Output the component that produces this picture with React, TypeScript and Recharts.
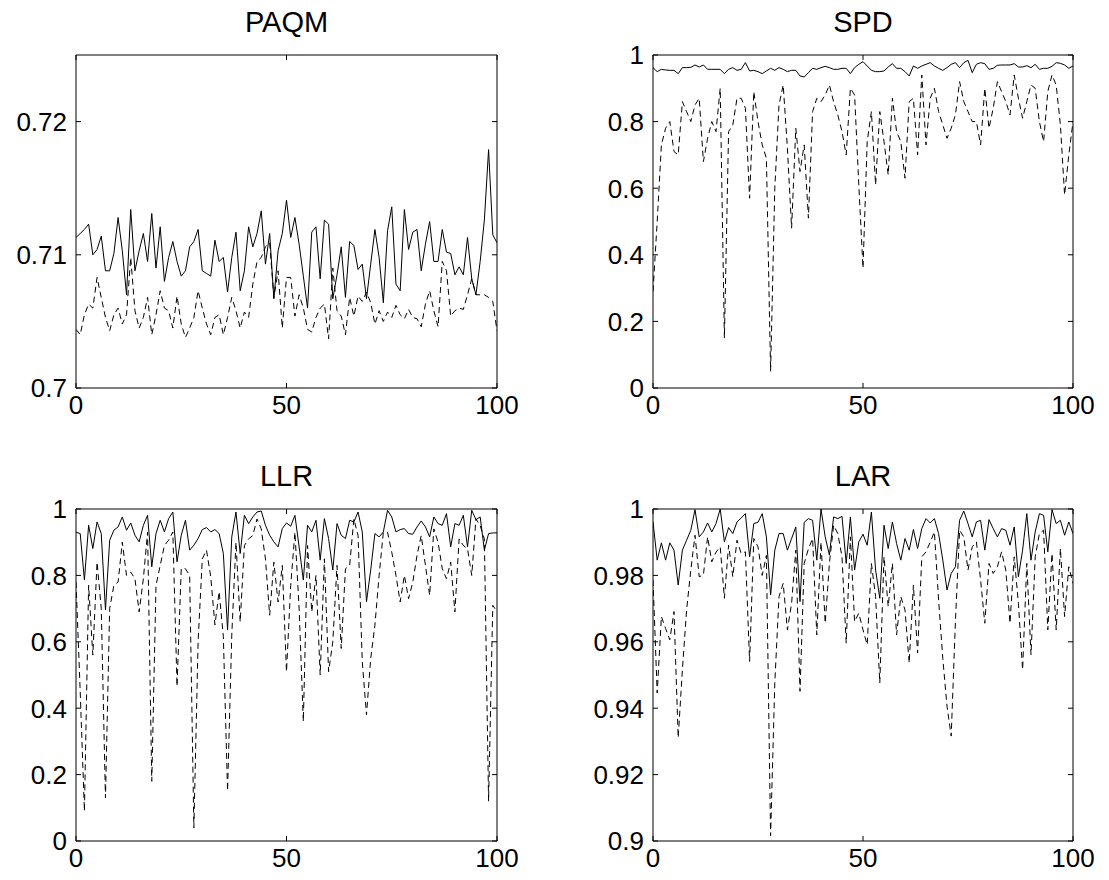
import React from 'react';
import { LineChart, Line, XAxis, YAxis, ReferenceArea } from 'recharts';

// x positions 0..100 on every panel
const xTicks = [0, 50, 100];

const paqmTicks = [0.7, 0.71, 0.72];
const paqmLabels = ['0.7', '0.71', '0.72'];
const unitTicks = [0, 0.2, 0.4, 0.6, 0.8, 1];
const unitLabels = ['0', '0.2', '0.4', '0.6', '0.8', '1'];
const larTicks = [0.9, 0.92, 0.94, 0.96, 0.98, 1];
const larLabels = ['0.9', '0.92', '0.94', '0.96', '0.98', '1'];

const paqmSolid = [
  0.7113, 0.7116, 0.7119, 0.7123, 0.7100, 0.7104, 0.7114, 0.7088, 0.7088, 0.7101,
  0.7128, 0.7103, 0.7070, 0.7134, 0.7088, 0.7103, 0.7116, 0.7095, 0.7131, 0.7090,
  0.7121, 0.7080, 0.7098, 0.7110, 0.7095, 0.7084, 0.7088, 0.7106, 0.7110, 0.7119,
  0.7088, 0.7086, 0.7084, 0.7111, 0.7095, 0.7098, 0.7072, 0.7098, 0.7117, 0.7073,
  0.7088, 0.7121, 0.7106, 0.7116, 0.7133, 0.7093, 0.7116, 0.7067, 0.7103, 0.7116,
  0.7141, 0.7113, 0.7128, 0.7108, 0.7084, 0.7060, 0.7117, 0.7121, 0.7082, 0.7126,
  0.7123, 0.7067, 0.7085, 0.7106, 0.7068, 0.7110, 0.7107, 0.7089, 0.7093, 0.7067,
  0.7093, 0.7119, 0.7098, 0.7064, 0.7118, 0.7136, 0.7078, 0.7073, 0.7134, 0.7104,
  0.7117, 0.7119, 0.7088, 0.7108, 0.7125, 0.7095, 0.7095, 0.7119, 0.7102, 0.7101,
  0.7085, 0.7091, 0.7085, 0.7113, 0.7082, 0.7070, 0.7095, 0.7126, 0.7179, 0.7115, 0.7109,
];
const paqmDashed = [
  0.7044, 0.7040, 0.7055, 0.7063, 0.7060, 0.7083, 0.7068, 0.7053, 0.7043, 0.7055,
  0.7060, 0.7048, 0.7055, 0.7098, 0.7058, 0.7045, 0.7053, 0.7068, 0.7040, 0.7055,
  0.7073, 0.7060, 0.7058, 0.7045, 0.7069, 0.7048, 0.7038, 0.7045, 0.7053, 0.7073,
  0.7060, 0.7048, 0.7040, 0.7053, 0.7055, 0.7040, 0.7053, 0.7068, 0.7058, 0.7045,
  0.7057, 0.7053, 0.7078, 0.7095, 0.7098, 0.7106, 0.7109, 0.7068, 0.7088, 0.7045,
  0.7083, 0.7083, 0.7054, 0.7070, 0.7060, 0.7044, 0.7042, 0.7053, 0.7060, 0.7063,
  0.7037, 0.7090, 0.7058, 0.7054, 0.7040, 0.7068, 0.7054, 0.7069, 0.7065, 0.7072,
  0.7064, 0.7048, 0.7058, 0.7050, 0.7057, 0.7053, 0.7062, 0.7055, 0.7052, 0.7059,
  0.7053, 0.7052, 0.7046, 0.7063, 0.7073, 0.7058, 0.7046, 0.7095, 0.7088, 0.7054,
  0.7058, 0.7060, 0.7059, 0.7070, 0.7082, 0.7070, 0.7070, 0.7070, 0.7068, 0.7065, 0.7043,
];

const spdSolid = [
  0.962, 0.950, 0.957, 0.955, 0.954, 0.954, 0.944, 0.962, 0.962, 0.963,
  0.970, 0.964, 0.970, 0.957, 0.957, 0.957, 0.957, 0.944, 0.957, 0.962,
  0.954, 0.957, 0.977, 0.952, 0.954, 0.950, 0.944, 0.952, 0.960, 0.954,
  0.962, 0.957, 0.950, 0.954, 0.954, 0.937, 0.934, 0.947, 0.960, 0.957,
  0.962, 0.966, 0.962, 0.957, 0.957, 0.960, 0.960, 0.944, 0.962, 0.972,
  0.980, 0.967, 0.954, 0.950, 0.950, 0.952, 0.964, 0.974, 0.960, 0.960,
  0.950, 0.937, 0.967, 0.960, 0.967, 0.972, 0.977, 0.967, 0.960, 0.954,
  0.962, 0.972, 0.977, 0.962, 0.977, 0.984, 0.947, 0.972, 0.977, 0.974,
  0.957, 0.960, 0.969, 0.970, 0.970, 0.970, 0.974, 0.964, 0.964, 0.968,
  0.962, 0.972, 0.957, 0.960, 0.960, 0.966, 0.977, 0.975, 0.970, 0.960, 0.967,
];
const spdDashed = [
  0.29, 0.50, 0.73, 0.78, 0.80, 0.71, 0.70, 0.86, 0.83, 0.80,
  0.85, 0.87, 0.68, 0.75, 0.80, 0.77, 0.90, 0.15, 0.77, 0.79,
  0.87, 0.87, 0.84, 0.57, 0.89, 0.80, 0.73, 0.69, 0.05, 0.60,
  0.85, 0.91, 0.72, 0.48, 0.78, 0.65, 0.73, 0.51, 0.83, 0.87,
  0.86, 0.88, 0.91, 0.86, 0.82, 0.77, 0.70, 0.90, 0.88, 0.61,
  0.36, 0.74, 0.83, 0.61, 0.83, 0.74, 0.64, 0.87, 0.77, 0.74,
  0.63, 0.86, 0.87, 0.70, 0.94, 0.73, 0.87, 0.90, 0.83, 0.79,
  0.75, 0.78, 0.82, 0.92, 0.86, 0.83, 0.80, 0.80, 0.73, 0.90,
  0.78, 0.84, 0.92, 0.89, 0.86, 0.82, 0.94, 0.87, 0.81, 0.86,
  0.91, 0.90, 0.80, 0.74, 0.89, 0.94, 0.91, 0.79, 0.58, 0.70, 0.80,
];

const llrSolid = [
  0.930, 0.926, 0.786, 0.951, 0.881, 0.961, 0.926, 0.696, 0.906, 0.936,
  0.946, 0.976, 0.936, 0.958, 0.921, 0.901, 0.951, 0.981, 0.826, 0.926,
  0.966, 0.931, 0.971, 0.991, 0.841, 0.921, 0.966, 0.876, 0.891, 0.911,
  0.938, 0.944, 0.931, 0.938, 0.926, 0.866, 0.636, 0.916, 0.991, 0.866,
  0.981, 0.956, 0.976, 0.991, 0.994, 0.951, 0.921, 0.901, 0.886, 0.941,
  0.958, 0.948, 0.981, 0.886, 0.786, 0.951, 0.931, 0.966, 0.846, 0.971,
  0.911, 0.816, 0.956, 0.921, 0.911, 0.966, 0.961, 0.991, 0.931, 0.721,
  0.816, 0.926, 0.916, 0.931, 0.996, 0.976, 0.931, 0.938, 0.941, 0.926,
  0.924, 0.946, 0.964, 0.946, 0.916, 0.976, 0.956, 0.951, 0.986, 0.886,
  0.956, 0.951, 0.981, 0.886, 0.996, 0.968, 0.976, 0.876, 0.926, 0.928, 0.928,
];
const llrDashed = [
  0.78, 0.45, 0.09, 0.77, 0.56, 0.84, 0.70, 0.13, 0.70, 0.77,
  0.78, 0.90, 0.80, 0.81, 0.79, 0.69, 0.79, 0.93, 0.18, 0.77,
  0.83, 0.89, 0.906, 0.931, 0.466, 0.821, 0.82, 0.80, 0.04, 0.60,
  0.85, 0.876, 0.796, 0.651, 0.751, 0.616, 0.151, 0.62, 0.90, 0.66,
  0.89, 0.91, 0.92, 0.97, 0.94, 0.85, 0.68, 0.84, 0.72, 0.83,
  0.51, 0.77, 0.93, 0.70, 0.36, 0.89, 0.69, 0.80, 0.50, 0.85,
  0.51, 0.60, 0.83, 0.58, 0.82, 0.83, 0.97, 0.92, 0.54, 0.38,
  0.55, 0.65, 0.80, 0.93, 0.93, 0.87, 0.80, 0.72, 0.80, 0.73,
  0.78, 0.86, 0.92, 0.83, 0.74, 0.94, 0.90, 0.82, 0.79, 0.84,
  0.69, 0.91, 0.89, 0.88, 0.80, 0.97, 0.95, 0.91, 0.12, 0.71, 0.69,
];

const larSolid = [
  0.9961, 0.9846, 0.9898, 0.9846, 0.9898, 0.9876, 0.9771, 0.9876, 0.9906, 0.9936,
  0.9998, 0.9916, 0.9931, 0.9958, 0.9931, 0.9956, 1.0, 0.9901, 0.9944, 0.9926,
  0.9961, 0.9973, 0.9986, 0.9856, 0.9956, 0.9960, 0.9986, 0.9916, 0.9741, 0.9876,
  0.9926, 0.9926, 0.9876, 0.9911, 0.9946, 0.9721, 0.9960, 0.9971, 0.9966, 0.9846,
  1.0, 0.9916, 0.9861, 0.9976, 0.9971, 0.9978, 0.9836, 0.9976, 0.9816, 0.9901,
  0.9924, 0.9891, 0.9991, 0.9816, 0.9731, 0.9951, 0.9881, 0.9961, 0.9896, 0.9846,
  0.9911, 0.9876, 0.9938, 0.9881, 0.9941, 0.9971, 0.9958, 0.9971, 0.9926, 0.9846,
  0.9756, 0.9806, 0.9826, 0.9966, 0.9994, 0.9956, 0.9916, 0.9961, 0.9966, 0.9876,
  0.9968, 0.9941, 0.9916, 0.9941, 0.9936, 0.9891, 0.9946, 0.9796, 0.9876, 0.9986,
  0.9846, 0.9931, 0.9986, 0.9981, 0.9871, 0.9998, 0.9956, 0.9966, 0.9921, 0.9961, 0.9926,
];
const larDashed = [
  0.9786, 0.9446, 0.9676, 0.9640, 0.9606, 0.9691, 0.9311, 0.9516, 0.9696, 0.9816,
  0.9921, 0.9796, 0.9801, 0.9916, 0.9841, 0.9870, 0.9886, 0.9731, 0.9891, 0.9796,
  0.9906, 0.9866, 0.9871, 0.9541, 0.9911, 0.9886, 0.9800, 0.9860, 0.9016, 0.9476,
  0.9736, 0.9776, 0.9636, 0.9716, 0.9876, 0.9451, 0.9836, 0.9880, 0.9911, 0.9621,
  0.9900, 0.9656, 0.9836, 0.9951, 0.9926, 0.9856, 0.9596, 0.9916, 0.9661, 0.9686,
  0.9636, 0.9591, 0.9836, 0.9736, 0.9476, 0.9856, 0.9706, 0.9836, 0.9621, 0.9736,
  0.9696, 0.9536, 0.9771, 0.9566, 0.9856, 0.9871, 0.9900, 0.9931, 0.9726, 0.9550,
  0.9406, 0.9316, 0.9660, 0.9936, 0.9916, 0.9816, 0.9886, 0.9901, 0.9786, 0.9656,
  0.9836, 0.9806, 0.9826, 0.9871, 0.9816, 0.9656, 0.9856, 0.9716, 0.9516, 0.9836,
  0.9561, 0.9856, 0.9926, 0.9936, 0.9636, 0.9866, 0.9636, 0.9881, 0.9676, 0.9826, 0.9776,
];

const FONT = '"Liberation Sans", Arial, Helvetica, sans-serif';
const TICK_FS = 26;
const TITLE_FS = 29;
const TICK_LEN = 5;
const YW = 76; // room for y labels
const MT = 50; // room for title
const MR = 30;
const XH = 45;

type PanelProps = {
  title: string;
  solid: number[];
  dashed: number[];
  domain: [number, number];
  yTicks: number[];
  yLabels: string[];
  left: number;
  top: number;
  width: number;
  height: number;
};

const Panel = ({ title, solid, dashed, domain, yTicks, yLabels, left, top, width, height }: PanelProps) => {
  const data = solid.map((v, i) => ({ x: i, solid: v, dashed: dashed[i] }));
  const chartW = YW + width + MR;
  const chartH = MT + height + XH;
  const plotRight = YW + width;

  // labels outside, tick marks pointing into the box on both sides
  const renderYTick = (p: any) => {
    const { x, y, payload } = p;
    const label = yLabels[yTicks.indexOf(payload.value)];
    return (
      <g>
        <line x1={x} x2={x + TICK_LEN} y1={y} y2={y} stroke="#000" />
        <line x1={plotRight - TICK_LEN} x2={plotRight} y1={y} y2={y} stroke="#000" />
        <text x={x - 9} y={y} dy="0.36em" textAnchor="end" fontSize={TICK_FS} fontFamily={FONT} fill="#000">
          {label}
        </text>
      </g>
    );
  };

  const renderXTick = (p: any) => {
    const { x, y, payload } = p;
    return (
      <g>
        <line x1={x} x2={x} y1={y} y2={y - TICK_LEN} stroke="#000" />
        <line x1={x} x2={x} y1={MT} y2={MT + TICK_LEN} stroke="#000" />
        <text x={x} y={y + 26} textAnchor="middle" fontSize={TICK_FS} fontFamily={FONT} fill="#000">
          {payload.value}
        </text>
      </g>
    );
  };

  return (
    <div style={{ position: 'absolute', left: left - YW, top: top - MT, width: chartW, height: chartH }}>
      <LineChart width={chartW} height={chartH} data={data} margin={{ top: MT, right: MR, bottom: 0, left: 0 }}>
        <XAxis
          type="number"
          dataKey="x"
          domain={[0, 100]}
          ticks={xTicks}
          allowDataOverflow
          height={XH}
          axisLine={false}
          tickLine={false}
          tickSize={0}
          tickMargin={0}
          tick={renderXTick}
        />
        <YAxis
          type="number"
          domain={domain}
          ticks={yTicks}
          allowDataOverflow
          width={YW}
          axisLine={false}
          tickLine={false}
          tickSize={0}
          tickMargin={0}
          tick={renderYTick}
        />
        <Line type="linear" dataKey="dashed" stroke="#000" strokeWidth={1} strokeDasharray="6 4" dot={false} isAnimationActive={false} />
        <Line type="linear" dataKey="solid" stroke="#000" strokeWidth={1} dot={false} isAnimationActive={false} />
        <ReferenceArea x1={0} x2={100} y1={domain[0]} y2={domain[1]} fill="none" fillOpacity={0} stroke="#000" strokeWidth={1} ifOverflow="visible" />
      </LineChart>
      <svg width={chartW} height={MT} style={{ position: 'absolute', left: 0, top: 0, pointerEvents: 'none' }}>
        <text x={YW + width / 2} y={MT - 23} textAnchor="middle" fontSize={TITLE_FS} fontFamily={FONT} fill="#000">
          {title}
        </text>
      </svg>
    </div>
  );
};

const App = () => {
  return (
    <div style={{ position: 'absolute', left: 0, top: 0, width: 1109, height: 880, background: '#fff', overflow: 'hidden' }}>
      <Panel title="PAQM" solid={paqmSolid} dashed={paqmDashed} domain={[0.7, 0.725]} yTicks={paqmTicks} yLabels={paqmLabels}
        left={76} top={55} width={421} height={333} />
      <Panel title="SPD" solid={spdSolid} dashed={spdDashed} domain={[0, 1]} yTicks={unitTicks} yLabels={unitLabels}
        left={653} top={55} width={420} height={333} />
      <Panel title="LLR" solid={llrSolid} dashed={llrDashed} domain={[0, 1]} yTicks={unitTicks} yLabels={unitLabels}
        left={76} top={509} width={421} height={332} />
      <Panel title="LAR" solid={larSolid} dashed={larDashed} domain={[0.9, 1]} yTicks={larTicks} yLabels={larLabels}
        left={653} top={509} width={420} height={332} />
    </div>
  );
};

export default App;
